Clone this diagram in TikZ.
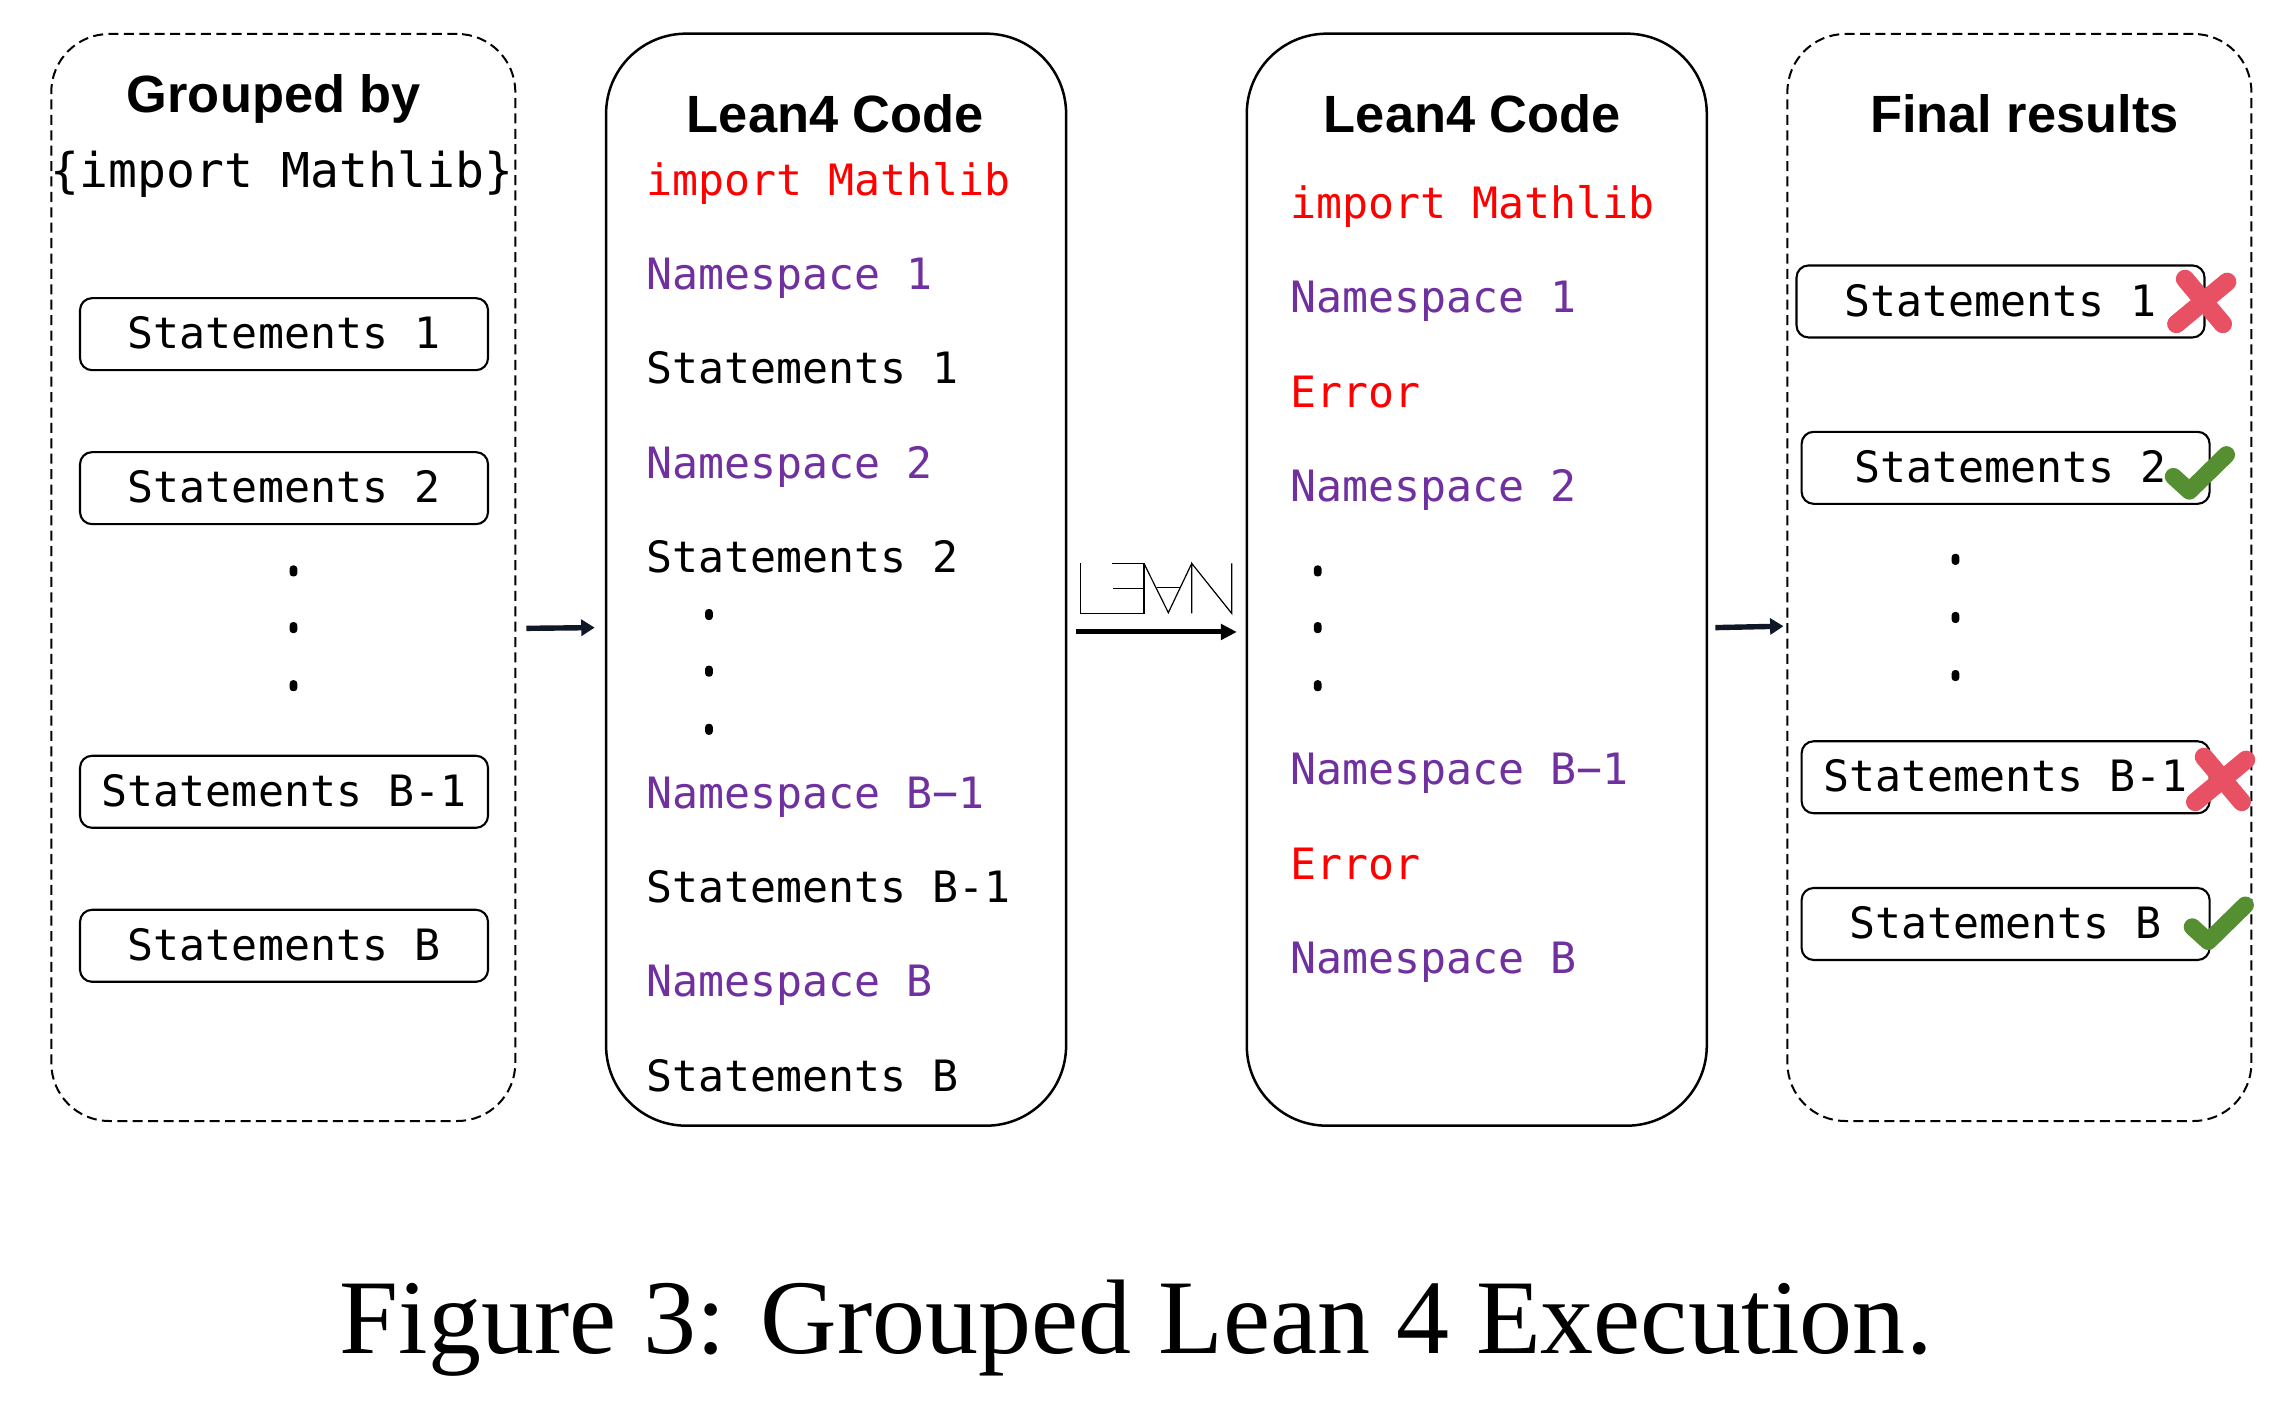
\documentclass[tikz,border=0pt]{standalone}
\usepackage{fontspec}
\setmainfont{Liberation Serif}
\setmonofont{DejaVu Sans Mono}
\newfontfamily\headfont{Liberation Sans}
\usetikzlibrary{arrows.meta,positioning}
\definecolor{nspurple}{HTML}{7030A0}
\definecolor{crossred}{HTML}{E85064}
\definecolor{checkgreen}{HTML}{568F32}
\definecolor{flownavy}{HTML}{101828}
\tikzstyle{outerdash} = [draw,dash pattern=on 5pt off 2.7pt,line width=1pt,rounded corners=29pt,minimum width=232pt,minimum height=543.5pt,inner sep=0pt]
\tikzstyle{outercode} = [draw,line width=1.25pt,rounded corners=40pt,minimum width=230pt,minimum height=546pt,inner sep=0pt]
\tikzstyle{stmtbox} = [draw,line width=1.05pt,rounded corners=6pt,minimum width=204pt,minimum height=36pt,inner sep=0pt,text height=16.4pt,text depth=1.8pt,font=\ttfamily\fontsize{21.6}{26}\selectfont]
\tikzstyle{headtext} = [inner sep=0pt,font=\headfont\bfseries\fontsize{26.2}{31}\selectfont]
\tikzstyle{codeline} = [inner sep=0pt,text width=196pt,text height=16pt,text depth=4pt,execute at begin node={\spaceskip=0pt\relax},font=\ttfamily\fontsize{21.6}{26}\selectfont]
\tikzstyle{nsline} = [codeline,text=nspurple]
\tikzstyle{dotmark} = [fill=black,rounded corners=1.6pt,inner sep=0pt,minimum width=3.8pt,minimum height=5.5pt]
\tikzstyle{flow} = [-{Triangle[length=6.7pt,width=8pt]},line width=2.7pt,draw=flownavy]
\tikzstyle{flowbig} = [-{Triangle[length=8pt,width=7.7pt]},line width=2.5pt,draw=black]
\tikzset{
    crossmark/.pic={
        \draw[crossred,line width=9.2pt,line cap=round] (-13,-15) -- (13,16);
        \draw[crossred,line width=9.2pt,line cap=round] (16,-13) -- (-19,16);
    },
    checkmark/.pic={
        \draw[checkgreen,line width=8.6pt,line cap=round,line join=round] (-11,-9) -- (0,1) -- (25.5,-24);
    }
}

\begin{document}
\begin{tikzpicture}[
        x=0.7264pt,
        y=-0.7264pt,
        node distance=47.2pt
        ]
        \useasboundingbox (0,0) rectangle (1568,969.2);
        % four columns
        \node[outerdash](grp) at (195,397.5) {};
        \node[outercode](code1) at (575.5,399) {};
        \node[outercode](code2) at (1016.5,399) {};
        \node[outerdash](res) at (1390,397.5) {};

        % grouped statements
        \node[headtext](grphead) at (188.5,68) {Grouped by};
        \node[inner sep=0pt,font=\ttfamily\fontsize{24}{29}\selectfont](grpkey) at (194,120) {\{import Mathlib\}};
        \node[stmtbox](g1) at (195.5,230) {Statements 1};
        \node[stmtbox](g2) at (195.5,336) {Statements 2};
        \node[dotmark](gd1) at (202,393) {};
        \node[dotmark](gd2) at (202,432) {};
        \node[dotmark](gd3) at (202,472) {};
        \node[stmtbox](g3) at (195.5,545) {Statements B-1};
        \node[stmtbox](g4) at (195.5,651) {Statements B};

        % code sent to lean
        \node[headtext](c1head) at (575,78) {Lean4 Code};
        \node[codeline,text=red](c1a) at (580,126) {import Mathlib};
        \node[nsline](c1b) [below of=c1a] {Namespace 1};
        \node[codeline](c1c) [below of=c1b] {Statements 1};
        \node[nsline](c1d) [below of=c1c] {Namespace 2};
        \node[codeline](c1e) [below of=c1d] {Statements 2};
        \node[dotmark](cd1) at (488,423) {};
        \node[dotmark](cd2) at (488,462) {};
        \node[dotmark](cd3) at (488,502) {};
        \node[nsline](c1f) at (580,548) {Namespace B−1};
        \node[codeline](c1g) [below of=c1f] {Statements B-1};
        \node[nsline](c1h) [below of=c1g] {Namespace B};
        \node[codeline](c1i) [below of=c1h] {Statements B};

        % code returned by lean
        \node[headtext](c2head) at (1013.5,78) {Lean4 Code};
        \node[codeline,text=red](c2a) at (1023,142) {import Mathlib};
        \node[nsline](c2b) [below of=c2a] {Namespace 1};
        \node[codeline,text=red](c2c) [below of=c2b] {Error};
        \node[nsline](c2d) [below of=c2c] {Namespace 2};
        \node[dotmark](ed1) at (907,393) {};
        \node[dotmark](ed2) at (907,432) {};
        \node[dotmark](ed3) at (907,472) {};
        \node[nsline](c2e) at (1023,532) {Namespace B−1};
        \node[codeline,text=red](c2f) [below of=c2e] {Error};
        \node[nsline](c2g) [below of=c2f] {Namespace B};

        % final results
        \node[headtext](reshead) at (1393.5,78) {Final results};
        \node[stmtbox](r1) at (1377,207.5) {Statements 1};
        \node[stmtbox](r2) at (1380.5,322) {\hspace*{5pt}Statements 2};
        \node[dotmark](rd1) at (1346,385) {};
        \node[dotmark](rd2) at (1346,425) {};
        \node[dotmark](rd3) at (1346,465) {};
        \node[stmtbox](r3) at (1380.5,535) {Statements B-1};
        \node[stmtbox](r4) at (1380.5,636) {Statements B};
        \pic at (1517,207) {crossmark};
        \pic at (1507,337) {checkmark};
        \pic at (1530,536) {crossmark};
        \pic at (1520,647) {checkmark};

        % mirrored logo
        \draw[line width=0.6pt] (743.9,387.8) -- (743.9,422.2) -- (787.4,422.2) -- (787.4,387.8) -- (765.6,387.8);
        \draw[line width=0.6pt] (766,405) -- (787.4,405);
        \draw[line width=0.6pt] (787.4,387.8) -- (804.2,421.7) -- (820.3,387.8);
        \draw[line width=0.6pt] (796.2,404.6) -- (812.2,404.6);
        \draw[line width=0.6pt] (820.3,422.2) -- (820.3,387.8) -- (847.8,422.2) -- (847.8,387.8);

        % arrows
        \draw[flow] ([shift={(7,35)}]grp.east) -- ([shift={(-7,33)}]code1.west);
        \draw[flowbig] ([shift={(6,36)}]code1.east) -- ([shift={(-6,36)}]code2.west);
        \draw[flow] ([shift={(5,33)}]code2.east) -- ([shift={(-2,33.5)}]res.west);

        \node[inner sep=0pt,font=\fontsize{53}{64}\selectfont](cap) at (782,914) {Figure 3: Grouped Lean 4 Execution.};
    \end{tikzpicture}
\end{document}
